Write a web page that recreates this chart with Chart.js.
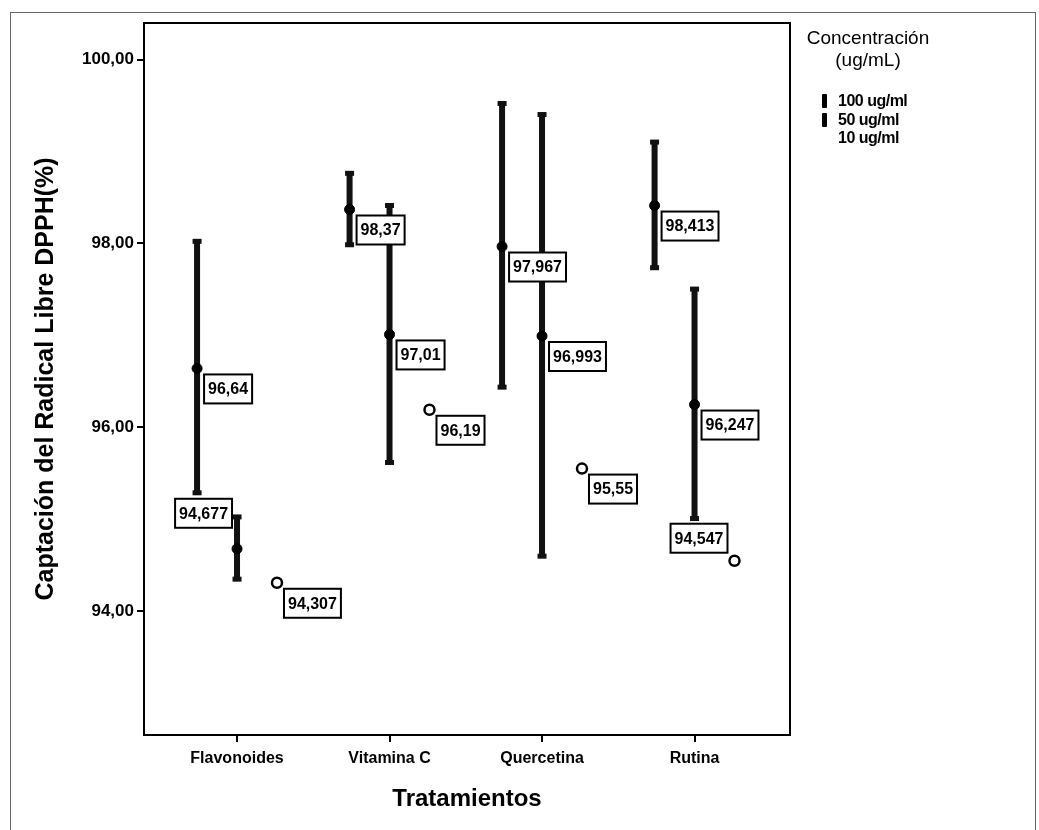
<!DOCTYPE html>
<html>
<head>
<meta charset="utf-8">
<script src="https://cdn.jsdelivr.net/npm/chart.js@4"></script>
<style>
  body { margin: 0; background: #fff; }
  #marco { position: absolute; left: 10px; top: 12px; width: 1026px; height: 830px; border: 1px solid #666; box-sizing: border-box; }
  #grafico { position: absolute; left: 0; top: 0; }
  #leyenda { position: absolute; left: 794px; top: 27px; font-family: 'Liberation Sans', Arial, sans-serif; color: #000; }
  #leyenda .titulo { font-size: 19px; text-align: center; line-height: 22px; width: 148px; }
  #leyenda .item { font-weight: bold; font-size: 16px; line-height: 18.5px; position: relative; padding-left: 44px; letter-spacing: -0.5px; }
  #leyenda .icono { position: absolute; left: 28px; top: 2px; width: 5px; height: 14px; background: #000; border-radius: 1px; }
</style>
</head>
<body>
<div id="marco"></div>
<canvas id="grafico" width="1039" height="830"></canvas>
<div id="leyenda">
  <div class="titulo">Concentración<br>(ug/mL)</div>
  <div style="height:21px"></div>
  <div class="item"><span class="icono"></span>100 ug/ml</div>
  <div class="item"><span class="icono"></span>50 ug/ml</div>
  <div class="item">10 ug/ml</div>
</div>
<script>
// Datos
const categorias = ['Flavonoides', 'Vitamina C', 'Quercetina', 'Rutina'];
const series = ['100 ug/ml', '50 ug/ml', '10 ug/ml'];

const media100 = [96.64, 98.37, 97.967, 98.413];
const inf100 = [95.27, 97.97, 96.42, 97.72];
const sup100 = [98.04, 98.78, 99.54, 99.12];

const media50 = [94.677, 97.01, 96.993, 96.247];
const inf50 = [94.33, 95.60, 94.58, 94.99];
const sup50 = [95.04, 98.43, 99.42, 97.52];

const media10 = [94.307, 96.19, 95.55, 94.547];

const ticksY = [94, 96, 98, 100];

// desplazamiento de cada serie dentro de la categoria
const desplaz = [-0.262, 0, 0.262];

function puntos(valores, s) {
    return valores.map((v, i) => ({ x: i + desplaz[s], y: v }));
}

const intervalos = [
    { inf: inf100, sup: sup100 },
    { inf: inf50, sup: sup50 },
    null
];

// etiquetas que van a la izquierda del punto
const etiquetaIzq = {
    '1-0': { dx: -5, dy: -50 },
    '2-3': { dx: -7, dy: -37 }
};

const fuente = "'Liberation Sans', Arial, sans-serif";
Chart.defaults.font.family = fuente;
Chart.defaults.color = '#000';

const barrasError = {
    id: 'barrasError',
    beforeDatasetsDraw(chart) {
        const ctx = chart.ctx;
        const a = chart.chartArea;
        ctx.save();
        ctx.strokeStyle = '#000';
        ctx.lineWidth = 2;
        ctx.strokeRect(a.left, a.top, a.right - a.left, a.bottom - a.top);
        const sx = chart.scales.x, sy = chart.scales.y;
        intervalos.forEach((iv, s) => {
            if (!iv) return;
            iv.inf.forEach((lo, i) => {
                const x = sx.getPixelForValue(i + desplaz[s]);
                const y1 = sy.getPixelForValue(lo);
                const y2 = sy.getPixelForValue(iv.sup[i]);
                ctx.fillStyle = '#111';
                ctx.fillRect(x - 3, y2, 6, y1 - y2);
                ctx.fillRect(x - 4.5, y2 - 1, 9, 5);
                ctx.fillRect(x - 4.5, y1 - 4, 9, 5);
            });
        });
        ctx.restore();
    },
    afterDatasetsDraw(chart) {
        const ctx = chart.ctx;
        ctx.save();
        ctx.font = 'bold 16px ' + fuente;
        ctx.textBaseline = 'middle';
        chart.data.datasets.forEach((ds, s) => {
            const meta = chart.getDatasetMeta(s);
            meta.data.forEach((p, i) => {
                const txt = String(ds.data[i].y).replace('.', ',');
                const w = ctx.measureText(txt).width + 8;
                const h = 29;
                let left = p.x + 7, top = p.y + 6;
                const aj = etiquetaIzq[s + '-' + i];
                if (aj) {
                    left = p.x + aj.dx - w;
                    top = p.y + aj.dy;
                }
                ctx.fillStyle = '#fff';
                ctx.fillRect(left, top, w, h);
                ctx.strokeStyle = '#000';
                ctx.lineWidth = 2;
                ctx.strokeRect(left, top, w, h);
                ctx.fillStyle = '#000';
                ctx.fillText(txt, left + 4, top + h / 2 + 1);
            });
        });
        ctx.restore();
    }
};

new Chart(document.getElementById('grafico'), {
    type: 'scatter',
    data: {
        datasets: [
            { label: series[0], data: puntos(media100, 0), pointRadius: 5, backgroundColor: '#000', borderColor: '#000' },
            { label: series[1], data: puntos(media50, 1), pointRadius: 5, backgroundColor: '#000', borderColor: '#000' },
            { label: series[2], data: puntos(media10, 2), pointRadius: 5, pointBorderWidth: 2.5, backgroundColor: '#fff', borderColor: '#000' }
        ]
    },
    options: {
        responsive: false,
        animation: false,
        layout: { padding: { left: 29, top: 23, right: 249, bottom: 10 } },
        plugins: { legend: { display: false }, tooltip: { enabled: false } },
        scales: {
            x: {
                type: 'linear',
                min: -0.61,
                max: 3.626,
                afterBuildTicks: (scale) => { scale.ticks = categorias.map((c, i) => ({ value: i })); },
                afterFit: (scale) => { scale.height = 85; },
                ticks: {
                    callback: (v) => categorias[v],
                    font: { size: 16, weight: 'bold' },
                    padding: 7,
                    maxRotation: 0
                },
                grid: { drawOnChartArea: false, tickLength: 7, tickColor: '#000', lineWidth: 2 },
                border: { display: false },
                title: { display: true, text: 'Tratamientos', font: { size: 24, weight: 'bold' }, padding: { top: 0, bottom: 6 } }
            },
            y: {
                min: 92.65,
                max: 100.4,
                afterBuildTicks: (scale) => { scale.ticks = ticksY.map(v => ({ value: v })); },
                afterFit: (scale) => { scale.width = 115; },
                ticks: {
                    callback: (v) => v.toFixed(2).replace('.', ','),
                    font: { size: 17, weight: 'bold' },
                    padding: 3
                },
                grid: { drawOnChartArea: false, tickLength: 7, tickColor: '#000', lineWidth: 2 },
                border: { display: false },
                title: { display: true, text: 'Captación del Radical Libre DPPH(%)', font: { size: 25, weight: 'bold' }, padding: { top: 2, bottom: 4 } }
            }
        }
    },
    plugins: [barrasError]
});
</script>
</body>
</html>
